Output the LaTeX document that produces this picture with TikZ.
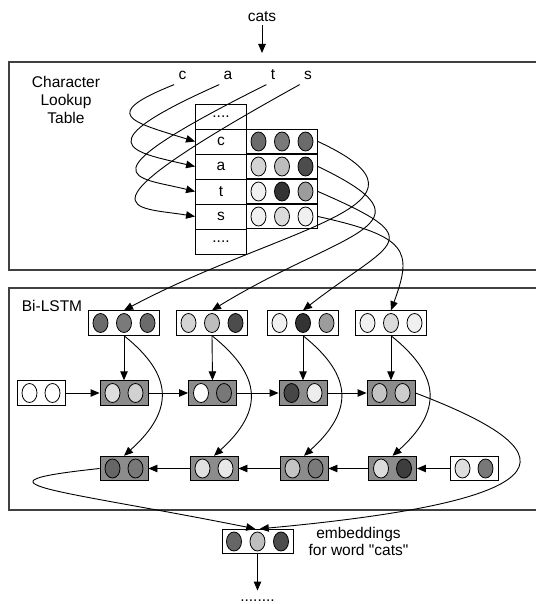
\documentclass[tikz,border=0pt]{standalone}
\usepackage{fontspec}
\setmainfont{Liberation Sans}
\usetikzlibrary{arrows.meta}
\usetikzlibrary{shapes.geometric}

\tikzset{
	frame/.style={draw=black!75, line width=1.1pt},
	vecbox/.style={draw, line width=0.9pt, minimum height=24.5, inner sep=0pt},
	bead/.style={ellipse, draw, line width=0.8pt, minimum width=15, minimum height=19, inner sep=0pt},
	tcell/.style={draw, line width=0.9pt, minimum width=51, minimum height=25, inner sep=0pt},
}

% vector of three beads: name, position, box fill, bead fills
\newcommand{\threevec}[6]{%
	\node[vecbox, minimum width=71, fill=#3] (#1) at (#2) {};
	\node[bead, fill=#4, xshift=-23.5] at (#1) {};
	\node[bead, fill=#5] at (#1) {};
	\node[bead, fill=#6, xshift=23.5] at (#1) {};
}
% vector of two beads (lstm states)
\newcommand{\twovec}[5]{%
	\node[vecbox, minimum width=48, fill=#3] (#1) at (#2) {};
	\node[bead, fill=#4, xshift=-11.5] at (#1) {};
	\node[bead, fill=#5, xshift=11.5] at (#1) {};
}

\begin{document}
\begin{tikzpicture}[x=1pt, y=-1pt, line width=0.9pt, >={Triangle[length=9pt,width=7.5pt]}, font=\fontsize{15.5}{18}\selectfont]
		\useasboundingbox (0,0) rectangle (535,604);
		\draw [frame] (9,62) rectangle (560,270);
		\draw [frame] (9,288) rectangle (560,510);
		\node [anchor=base] (cats) at (262,21.5) {cats};
		\coordinate (intop) at (262,53);
		\draw [->] (cats) -- (intop);
		\node [align=center] (lookup) at (66,100) {Character\\Lookup\\Table};
		\node (bilstm) at (52,306) {Bi-LSTM};
		% characters
		\node [anchor=base, inner sep=4pt] (lc) at (182.5,80) {c};
		\node [anchor=base, inner sep=4pt] (la) at (228,80) {a};
		\node [anchor=base, inner sep=4pt] (lt) at (273,80) {t};
		\node [anchor=base, inner sep=4pt] (ls) at (308,80) {s};
		% lookup table
		\node [tcell] (tdots1) at (221,116.5) {....};
		\node [tcell] (tc) at (221,141.5) {c};
		\node [tcell] (ta) at (221,166.5) {a};
		\node [tcell] (tt) at (221,191.5) {t};
		\node [tcell] (ts) at (221,216.5) {s};
		\node [tcell] (tdots2) at (221,241.5) {....};
		\threevec{ec}{282,141.5}{white}{black!58}{black!52}{black!58}
		\threevec{ea}{282,166.5}{white}{black!17}{black!26}{black!70}
		\threevec{et}{282,191.5}{white}{black!6}{black!80}{black!39}
		\threevec{es}{282,216.5}{white}{black!6}{black!14}{black!6}
		\draw [->] (lc.south west) .. controls +(-75,30) and +(-65,-20) .. (tc.west);
		\draw [->] (la.south west) .. controls +(-135,60) and +(-65,-15) .. (ta.west);
		\draw [->] (lt.south west) .. controls +(-190,95) and +(-60,-15) .. (tt.west);
		\draw [->] (ls.south west) .. controls +(-235,130) and +(-60,-10) .. (ts.west);
		% bi-lstm
		\threevec{xc}{124,323}{white}{black!58}{black!52}{black!58}
		\threevec{xa}{212,323}{white}{black!17}{black!26}{black!70}
		\threevec{xt}{303,323}{white}{black!6}{black!80}{black!39}
		\threevec{xs}{391,323}{white}{black!6}{black!14}{black!6}
		\twovec{f0}{41,393}{white}{white}{white}
		\twovec{f1}{124,393}{black!45}{black!13}{black!18}
		\twovec{f2}{212.5,393}{black!45}{white}{black!53}
		\twovec{f3}{303,393}{black!45}{black!72}{black!7}
		\twovec{f4}{391,393}{black!45}{black!23}{black!20}
		\twovec{b1}{124,468.5}{black!45}{black!60}{black!53}
		\twovec{b2}{214,468.5}{black!45}{black!12}{black!9}
		\twovec{b3}{304,468.5}{black!45}{black!23}{black!52}
		\twovec{b4}{392.5,468.5}{black!45}{black!14}{black!76}
		\twovec{b5}{474,468.5}{white}{black!13}{black!53}
		\draw [->] (ec.east) .. controls +(138,64) and +(160,-85) .. (xc.north);
		\draw [->] (ea.east) .. controls +(125,60) and +(130,-80) .. (xa.north);
		\draw [->] (et.east) .. controls +(115,50) and +(90,-70) .. (xt.north);
		\draw [->] (es.east) .. controls +(90,20) and +(22,-60) .. (xs.north);
		\draw [->] (xc.south) -- (f1.north);
		\draw [->] (xa.south) -- (f2.north);
		\draw [->] (xt.south) -- (f3.north);
		\draw [->] (xs.south) -- (f4.north);
		\draw [->] (xc.south) .. controls +(50,40) and +(50,-45) .. (b1.north);
		\draw [->] (xa.south) .. controls +(50,40) and +(50,-45) .. (b2.north);
		\draw [->] (xt.south) .. controls +(50,40) and +(50,-45) .. (b3.north);
		\draw [->] (xs.south) .. controls +(50,40) and +(50,-45) .. (b4.north);
		\draw [->] (f0) -- (f1);
		\draw [->] (f1) -- (f2);
		\draw [->] (f2) -- (f3);
		\draw [->] (f3) -- (f4);
		\draw [->] (b5) -- (b4);
		\draw [->] (b4) -- (b3);
		\draw [->] (b3) -- (b2);
		\draw [->] (b2) -- (b1);
		% word embedding
		\threevec{emb}{257.5,541.5}{white}{black!60}{black!25}{black!70}
		\node [align=center, font=\fontsize{15.5}{17.5}\selectfont] (embtext) at (358.5,541.5) {embeddings\\for word \textquotedbl cats\textquotedbl};
		\draw [->] (b1.west) .. controls +(-140,15) and +(-200,-40) .. (emb.100);
		\draw [->] (f4.east) .. controls +(150,57) and +(325,-30) .. (emb.80);
		\node [anchor=base, text height=9pt, text depth=0pt, inner sep=1pt] (more) at (257.5,601) {........};
		\draw [->] (emb) -- (more);
	\end{tikzpicture}
\end{document}
